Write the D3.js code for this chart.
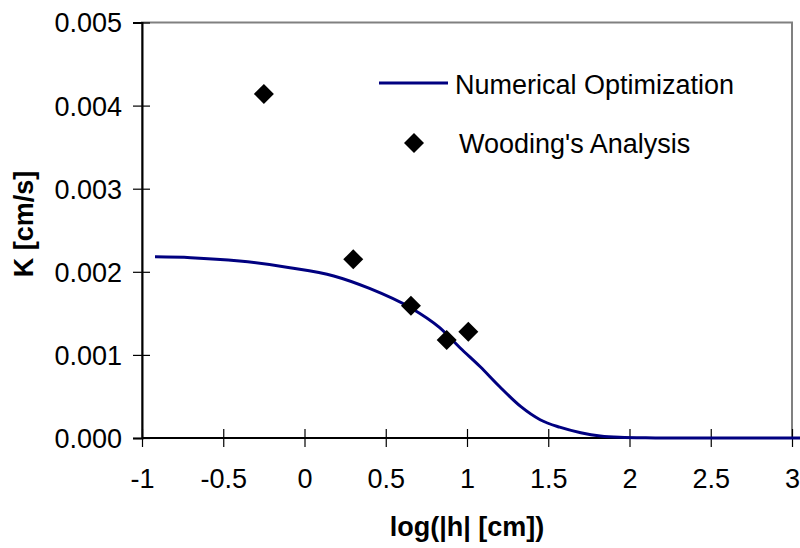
<!DOCTYPE html>
<html>
<head>
<meta charset="utf-8">
<script src="https://cdn.jsdelivr.net/npm/d3@7"></script>
<style>
  html, body { margin: 0; padding: 0; background: #fff; }
  svg { display: block; font-family: "Liberation Sans", Arial, sans-serif; }
</style>
</head>
<body>
<svg id="chart" width="800" height="548"></svg>
<script>
// Numerical optimization curve: log|h| vs K
const curveLogH = [-0.92, -0.7, -0.4, -0.09, 0.18, 0.4, 0.65, 0.83, 0.96, 1.08, 1.2, 1.33, 1.45, 1.57, 1.7, 1.82, 1.94, 2.1, 2.3, 2.6, 3.05];
const curveK    = [0.00218, 0.00217, 0.00213, 0.00205, 0.00195, 0.00180, 0.00157, 0.00133, 0.00108, 0.00086, 0.00062, 0.00038, 0.00022, 0.00013, 0.000064, 0.000024, 0.000008, 0.000002, 0, 0, 0];

// Wooding's analysis points
const woodLogH = [-0.25, 0.30, 0.655, 0.875, 1.008];
const woodK    = [0.00414, 0.00215, 0.00159, 0.00118, 0.00128];

const xTicks = [-1, -0.5, 0, 0.5, 1, 1.5, 2, 2.5, 3];
const yTicks = [0, 0.001, 0.002, 0.003, 0.004, 0.005];

const seriesNames = ["Numerical Optimization", "Wooding's Analysis"];
const xTitle = "log(|h| [cm])";
const yTitle = "K [cm/s]";

const svg = d3.select("#chart");
const plotLeft = 142, plotRight = 792, plotTop = 22.5, plotBottom = 438;
const fontSize = 27;

const x = d3.scaleLinear().domain([-1, 3]).range([plotLeft, plotRight]);
const y = d3.scaleLinear().domain([0, 0.005]).range([plotBottom, plotTop]);

// plot area border (grey)
svg.append("rect")
  .attr("x", plotLeft).attr("y", plotTop)
  .attr("width", plotRight - plotLeft).attr("height", plotBottom - plotTop)
  .attr("fill", "none").attr("stroke", "#808080").attr("stroke-width", 2);

// y axis
const yAxis = svg.append("g")
  .attr("transform", `translate(${plotLeft},0)`)
  .call(d3.axisLeft(y).tickValues(yTicks).tickFormat(d3.format(".3f")).tickSize(9).tickPadding(11));
yAxis.select(".domain").attr("stroke", "#000").attr("stroke-width", 2);
yAxis.selectAll(".tick line").attr("x1", 8).attr("x2", -9).attr("stroke", "#000").attr("stroke-width", 1.2);
yAxis.selectAll(".tick text")
  .attr("font-size", fontSize).attr("fill", "#000")
  .attr("font-family", "Liberation Sans, Arial, sans-serif")
  .attr("x", -20).attr("dy", "0.35em");

// x axis
const xAxis = svg.append("g")
  .attr("transform", `translate(0,${plotBottom})`)
  .call(d3.axisBottom(x).tickValues(xTicks).tickFormat(d => String(d)).tickSize(9).tickPadding(11));
xAxis.select(".domain").remove();
xAxis.selectAll(".tick line").attr("y1", -9).attr("y2", 9).attr("stroke", "#000").attr("stroke-width", 1.2);
xAxis.selectAll(".tick text")
  .attr("font-size", fontSize).attr("fill", "#000")
  .attr("font-family", "Liberation Sans, Arial, sans-serif")
  .attr("y", 50).attr("dy", null);
// x axis line runs to the right edge
svg.append("line")
  .attr("x1", x(-1)).attr("x2", 800)
  .attr("y1", plotBottom).attr("y2", plotBottom)
  .attr("stroke", "#000").attr("stroke-width", 2);

// axis titles
svg.append("text")
  .attr("x", (plotLeft + plotRight) / 2).attr("y", 536)
  .attr("text-anchor", "middle")
  .attr("font-size", fontSize).attr("font-weight", "bold")
  .text(xTitle);
svg.append("text")
  .attr("transform", `translate(33,224) rotate(-90)`)
  .attr("text-anchor", "middle")
  .attr("font-size", fontSize).attr("font-weight", "bold")
  .text(yTitle);

// curve
const curveData = curveLogH.map((v, i) => [v, curveK[i]]);
svg.append("path")
  .datum(curveData)
  .attr("fill", "none")
  .attr("stroke", "#000080")
  .attr("stroke-width", 3)
  .attr("d", d3.line().x(d => x(d[0])).y(d => y(Math.max(0, d[1]))).curve(d3.curveMonotoneX));

// diamonds
const diamond = d3.symbol().type(d3.symbolSquare).size(200);
const woodData = woodLogH.map((v, i) => [v, woodK[i]]);
svg.append("g").selectAll("path")
  .data(woodData)
  .join("path")
  .attr("d", diamond)
  .attr("transform", d => `translate(${x(d[0])},${y(d[1])}) rotate(45)`)
  .attr("fill", "#000");

// legend
const lg = svg.append("g");
lg.append("line")
  .attr("x1", 379).attr("x2", 448).attr("y1", 83).attr("y2", 83)
  .attr("stroke", "#000080").attr("stroke-width", 3);
lg.append("text").attr("x", 455).attr("y", 94)
  .attr("font-size", fontSize).text(seriesNames[0]);
lg.append("path")
  .attr("d", diamond)
  .attr("transform", "translate(414,143) rotate(45)")
  .attr("fill", "#000");
lg.append("text").attr("x", 459).attr("y", 153)
  .attr("font-size", fontSize).text(seriesNames[1]);
</script>
</body>
</html>
